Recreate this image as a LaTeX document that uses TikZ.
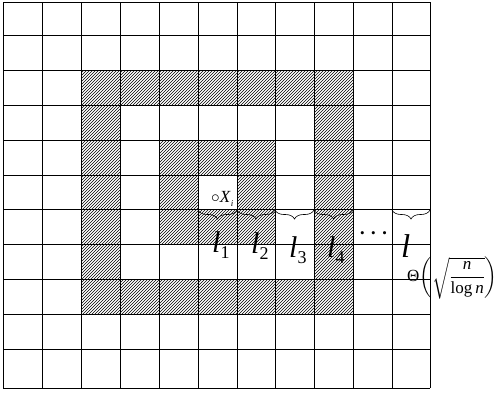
\documentclass[tikz,border=0pt]{standalone}
\usepackage{amsmath}
\usepackage{fontspec}
\setmainfont{Liberation Serif}
\usetikzlibrary{patterns, decorations.pathreplacing, positioning}

\tikzset{
  % Grid lines
  gridline/.style={draw=black, line width=0.8pt},
  % Hatched cells
  hatched/.style={pattern=north east lines, pattern color=black},
  % Braces under the cells
  cellbrace/.style={decorate, decoration={brace, mirror, amplitude=9pt},
    line width=0.6pt},
  % Labels
  lenlabel/.style={font=\fontsize{30}{30}\selectfont\itshape, inner sep=0pt,
    anchor=base west},
}
\newcommand{\lsub}[1]{l\raisebox{-6pt}{\fontsize{18}{18}\selectfont\upshape #1}}

\begin{document}
\begin{tikzpicture}[x=1pt, y=-1pt]
  \useasboundingbox (0,0) rectangle (496,394);

  % Hatched rings
  \fill[hatched, even odd rule] (81,70) rectangle (353,314)
    (120,105) rectangle (314,279);
  \fill[hatched, even odd rule] (159,140) rectangle (275,244)
    (198,175) rectangle (237,209);

  % Grid
  \foreach \x in {3,42,81,120,159,198,237,275,314,353,392,430}
    \draw[gridline] (\x,2) -- (\x,388);
  \foreach \y in {2,35,70,105,140,175,209,244,279,314,349,388}
    \draw[gridline] (3,\y) -- (430,\y);

  % Centre point
  \node[inner sep=0pt, anchor=base west, font=\fontsize{17}{17}\selectfont]
    (xi) at (211,202) {$\circ$\textit{X}\raisebox{-4pt}{\fontsize{9}{9}\selectfont\itshape i}};

  % Braces
  \foreach \a/\b in {198/237, 237/275, 275/314, 314/353, 392/430}
    \draw[cellbrace] (\a,210) -- (\b,210);

  % Lengths
  \node[lenlabel] (l1) at (212,252) {\lsub{1}};
  \node[lenlabel] (l2) at (251,253) {\lsub{2}};
  \node[lenlabel] (l3) at (289,257) {\lsub{3}};
  \node[lenlabel] (l4) at (327,257) {\lsub{4}};
  \node[inner sep=0pt, font=\fontsize{13}{13}\selectfont] (dots) at (373.5,235)
    {\textbullet\hspace{6.5pt}\textbullet\hspace{6.5pt}\textbullet};
  \node[lenlabel, font=\fontsize{33}{33}\selectfont\itshape] (lend) at (401,257) {l};

  % Order of l
  \node[inner sep=0pt, anchor=west, font=\fontsize{17}{19}\selectfont] (theta) at (407,278)
    {Θ$\left(\sqrt{\dfrac{\textit{n}}{\text{log}\,\textit{n}}}\right)$};
\end{tikzpicture}
\end{document}
